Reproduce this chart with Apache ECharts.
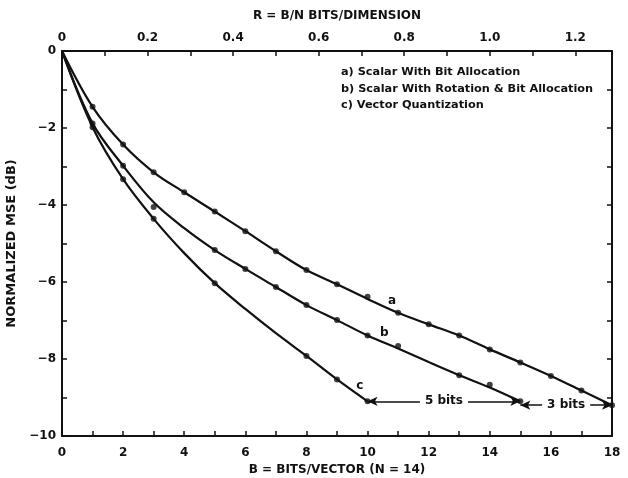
<!DOCTYPE html>
<html>
<head>
<meta charset="utf-8">
<script src="https://cdn.jsdelivr.net/npm/echarts@6/dist/echarts.min.js"></script>
<style>
  html, body { margin: 0; padding: 0; background: #fff; }
  #chart { width: 628px; height: 478px; }
</style>
</head>
<body>
<div id="chart"></div>
<script>
// Bits per vector (N = 14 dimensions)
const bits = [0,1,2,3,4,5,6,7,8,9,10,11,12,13,14,15,16,17,18];

// Smooth trend of each method, normalized MSE in dB
const curveA = [0,-1.45,-2.43,-3.15,-3.67,-4.17,-4.68,-5.2,-5.69,-6.06,-6.44,-6.8,-7.1,-7.39,-7.75,-8.09,-8.44,-8.82,-9.2];
const curveB = [0,-1.88,-2.98,-3.93,-4.6,-5.17,-5.66,-6.13,-6.6,-6.99,-7.39,-7.73,-8.08,-8.42,-8.74,-9.1];
const curveC = [0,-1.98,-3.33,-4.36,-5.25,-6.03,-6.7,-7.33,-7.92,-8.53,-9.1];

// Measured points [bits, dB]
const pointsA = [[1,-1.45],[2,-2.43],[3,-3.15],[4,-3.67],[5,-4.17],[6,-4.68],[7,-5.2],[8,-5.69],[9,-6.06],[10,-6.38],[11,-6.8],[12,-7.1],[13,-7.39],[14,-7.75],[15,-8.09],[16,-8.44],[17,-8.82],[18,-9.2]];
const pointsB = [[1,-1.88],[2,-2.98],[3,-4.05],[5,-5.17],[6,-5.66],[7,-6.13],[8,-6.6],[9,-6.99],[10,-7.39],[11,-7.66],[13,-8.42],[14,-8.67],[15,-9.1]];
const pointsC = [[1,-1.98],[2,-3.33],[3,-4.36],[5,-6.03],[8,-7.92],[9,-8.53],[10,-9.1]];

const legendLines = [
  'a) Scalar With Bit Allocation',
  'b) Scalar With Rotation & Bit Allocation',
  'c) Vector Quantization'
];

// Bit savings between the three methods at equal MSE
const gapVQ = { from: [10, -9.1], to: [15, -9.1], text: '5 bits' };
const gapRot = { from: [15, -9.2], to: [18, -9.2], text: '3 bits' };

const FONT = '"DejaVu Sans", "Liberation Sans", Arial, sans-serif';
const ink = '#111';

const pair = (xs, ys) => ys.map((y, i) => [xs[i], y]);

// frame lines stay on the grid edges; ticks point into the plot
const axisLine = () => ({ show: true, onZero: false, lineStyle: { color: ink, width: 2 } });
const tickStyle = () => ({ show: true, inside: true, length: 5, lineStyle: { color: ink, width: 1.5 } });
const labelBase = () => ({ color: ink, fontFamily: FONT, fontWeight: 'bold', fontSize: 12 });

function curveSeries(name, ys, pts, tag, tagCoord) {
  return [
    {
      name: name, type: 'line', xAxisIndex: 0, yAxisIndex: 0,
      data: pair(bits, ys), smooth: 0.35, showSymbol: false,
      lineStyle: { color: ink, width: 2.2 }, silent: true, z: 3,
      markPoint: {
        symbol: 'circle', symbolSize: 0,
        label: { show: true, formatter: tag, ...labelBase(), fontSize: 12 },
        data: [{ coord: tagCoord }]
      }
    },
    {
      name: name + ' pts', type: 'scatter', xAxisIndex: 0, yAxisIndex: 0,
      data: pts, symbol: 'circle', symbolSize: 6,
      itemStyle: { color: ink }, silent: true, z: 4
    }
  ];
}

function gapLine(g) {
  return {
    silent: true,
    symbol: ['arrow', 'arrow'], symbolSize: [7, 10],
    lineStyle: { color: ink, width: 1.5, type: 'solid' },
    label: {
      show: true, position: 'middle', formatter: g.text,
      ...labelBase(), fontSize: 12, backgroundColor: '#fff', padding: [1, 5],
      verticalAlign: 'middle', distance: 0
    },
    data: [[{ coord: g.from }, { coord: g.to }]]
  };
}

const chart = echarts.init(document.getElementById('chart'), null, { renderer: 'canvas' });

chart.setOption({
  animation: false,
  backgroundColor: '#fff',
  grid: { left: 62, right: 16, top: 51, bottom: 42, containLabel: false, outerBoundsMode: 'none' },
  xAxis: [
    {
      type: 'value', position: 'bottom', min: 0, max: 18, interval: 1,
      axisLine: axisLine(),
      axisTick: tickStyle(),
      splitLine: { show: false },
      axisLabel: {
        ...labelBase(), margin: 11,
        formatter: v => (Math.round(v) % 2 === 0 ? String(Math.round(v)) : '')
      },
      name: 'B = BITS/VECTOR (N = 14)', nameLocation: 'middle', nameGap: 25,
      nameTextStyle: labelBase()
    },
    {
      type: 'value', position: 'top', min: 0, max: 18 / 14, interval: 0.1,
      axisLine: axisLine(),
      axisTick: tickStyle(),
      splitLine: { show: false },
      axisLabel: {
        ...labelBase(), margin: 7, showMaxLabel: false,
        formatter: v => {
          const k = Math.round(v * 10);
          if (Math.abs(v * 10 - k) > 1e-6 || k % 2 !== 0) return '';
          return k === 0 ? '0' : (k / 10).toFixed(1);
        }
      },
      name: 'R = B/N BITS/DIMENSION', nameLocation: 'middle', nameGap: 29,
      nameTextStyle: labelBase()
    }
  ],
  yAxis: [
    {
      type: 'value', position: 'left', min: -10, max: 0, interval: 1,
      axisLine: axisLine(),
      axisTick: tickStyle(),
      splitLine: { show: false },
      axisLabel: {
        ...labelBase(), margin: 6,
        formatter: v => {
          const k = Math.round(v);
          if (k % 2 !== 0) return '';
          return k === 0 ? '0' : '\u2212' + Math.abs(k);
        }
      },
      name: 'NORMALIZED MSE (dB)', nameLocation: 'middle', nameGap: 26,
      nameRotate: 90,
      nameTextStyle: { ...labelBase(), fontSize: 13 }
    },
    {
      type: 'value', position: 'right', min: -10, max: 0, interval: 1,
      axisLine: axisLine(),
      axisTick: tickStyle(),
      axisLabel: { show: false },
      splitLine: { show: false }
    }
  ],
  series: [
    ...curveSeries('a', curveA, pointsA, 'a', [10.8, -6.5]),
    ...curveSeries('b', curveB, pointsB, 'b', [10.55, -7.33]),
    ...curveSeries('c', curveC, pointsC, 'c', [9.75, -8.7]),
    {
      name: 'gap5', type: 'line', xAxisIndex: 0, yAxisIndex: 0,
      data: [], silent: true,
      markLine: gapLine(gapVQ)
    },
    {
      name: 'gap3', type: 'line', xAxisIndex: 0, yAxisIndex: 0,
      data: [], silent: true,
      markLine: gapLine(gapRot)
    }
  ],
  graphic: legendLines.map((t, i) => ({
    type: 'text', left: 341, top: 67 + i * 16.5, silent: true,
    style: { text: t, fill: ink, font: 'bold 11.3px ' + FONT }
  }))
});
</script>
</body>
</html>
